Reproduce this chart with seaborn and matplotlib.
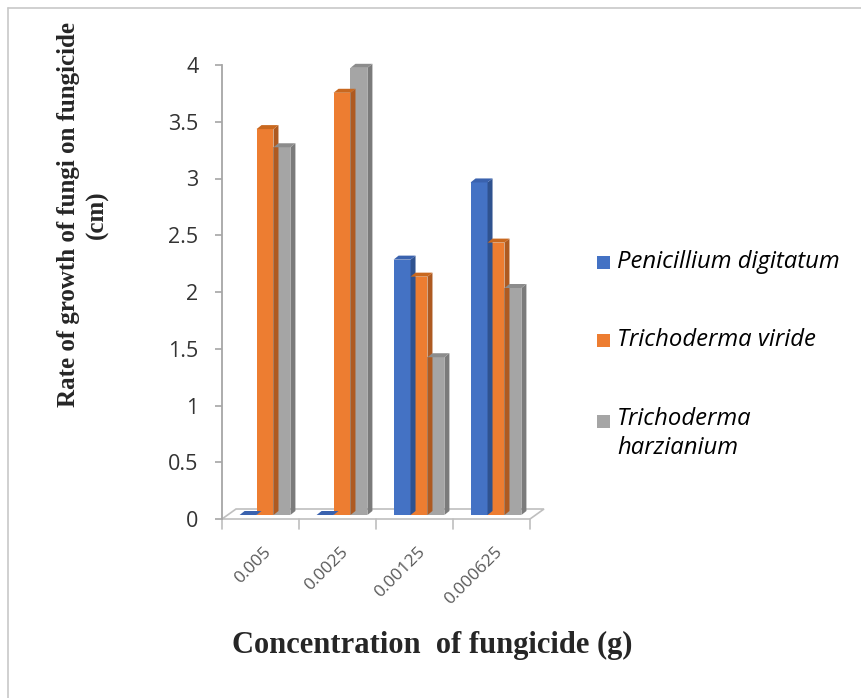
import matplotlib
matplotlib.use("Agg")
import matplotlib.pyplot as plt
from matplotlib.patches import Polygon, Rectangle
from matplotlib.lines import Line2D
import seaborn as sns
import pandas as pd
import numpy as np

categories = ["0.005", "0.0025", "0.00125", "0.000625"]
series = ["Penicillium digitatum", "Trichoderma viride", "Trichoderma\nharzianium"]
penicillium = [0.0, 0.0, 2.25, 2.93]
viride = [3.4, 3.72, 2.1, 2.4]
harzianium = [3.24, 3.94, 1.39, 2.0]

front_colors = ["#4472C4", "#ED7D31", "#A5A5A5"]
side_colors = ["#2F528F", "#AE5A21", "#7B7B7B"]
top_colors = ["#3A62AE", "#C9681F", "#8C8C8C"]

df = pd.DataFrame({
    "conc": categories * 3,
    "species": sum([[s] * 4 for s in series], []),
    "value": penicillium + viride + harzianium,
})

sns.set_theme(style="white")
plt.rcParams["font.family"] = ["Open Sans", "DejaVu Sans"]

W, H = 861, 698
fig = plt.figure(figsize=(W / 100, H / 100), dpi=100)
x0_px, x1_px = 222, 222 + 4.25 * 77
ax = fig.add_axes([x0_px / W, 1 - 519 / H, (x1_px - x0_px) / W, (519 - 65) / H])

sns.barplot(data=df, x="conc", y="value", hue="species", palette=front_colors,
            order=categories, hue_order=series, width=0.66, ax=ax,
            legend=False, saturation=1, linewidth=0, zorder=3)

ax.set_xlim(-0.5, 3.75)
ax.set_ylim(0, 4)

px_x = 1 / 77.0
px_y = 4 / (519 - 65)

# floor (3D base)
fd_x, fd_y = 14 * px_x, 10 * px_y
floor = Polygon([(-0.5, 0), (3.5, 0), (3.5 + fd_x, fd_y), (-0.5 + fd_x, fd_y)],
                closed=True, facecolor="white", edgecolor="#BFBFBF", lw=1.2,
                zorder=1, clip_on=False)
ax.add_patch(floor)

# shift bars to the middle depth of the floor and add 3D faces
bx, by = 4.5 * px_x, 4 * px_y
dx, dy = 5 * px_x, 4 * px_y
bars = [p for p in ax.patches if isinstance(p, Rectangle)]
for i, p in enumerate(bars):
    s = i // 4
    x, w, h = p.get_x(), p.get_width(), p.get_height()
    x += bx
    y = by
    p.set_x(x)
    p.set_y(y)
    p.set_clip_on(False)
    top = Polygon([(x, y + h), (x + w, y + h), (x + w + dx, y + h + dy), (x + dx, y + h + dy)],
                  closed=True, facecolor=top_colors[s], lw=0, zorder=3, clip_on=False)
    side = Polygon([(x + w, y), (x + w + dx, y + dy), (x + w + dx, y + h + dy), (x + w, y + h)],
                   closed=True, facecolor=side_colors[s], lw=0, zorder=3, clip_on=False)
    if h > 0:
        ax.add_patch(side)
    ax.add_patch(top)

for sp in ["top", "right", "bottom"]:
    ax.spines[sp].set_visible(False)
ax.spines["left"].set_color("#A6A6A6")
ax.spines["left"].set_linewidth(1.3)
ax.set_yticks([0, 0.5, 1, 1.5, 2, 2.5, 3, 3.5, 4])
ax.set_yticklabels(["0", "0.5", "1", "1.5", "2", "2.5", "3", "3.5", "4"])
ax.tick_params(axis="y", left=True, length=5, width=1.2, color="#A6A6A6",
               labelsize=15.5, labelcolor="#333333", pad=12)
ax.grid(False)

ax.set_xticks([])
for b in np.arange(-0.5, 4.0, 1.0):
    ax.plot([b, b], [0, -10 * px_y], color="#BFBFBF", lw=1.2, clip_on=False, zorder=2)
for i, c in enumerate(categories):
    ax.text(i + 0.04, -0.22, c, rotation=45, ha="right", va="top",
            fontsize=12.5, color="#595959", rotation_mode="anchor")

ax.set_xlabel("")
ax.set_ylabel("")

serif = ["Liberation Serif", "DejaVu Serif"]
fig.text(432 / W, 1 - 645 / H, "Concentration  of fungicide (g)",
         ha="center", va="center", fontsize=22, fontweight="bold", family=serif)
fig.text(83 / W, 1 - 215 / H, "Rate of growth of fungi on fungicide\n(cm)",
         ha="center", va="center", rotation=90, fontsize=18, fontweight="bold",
         family=serif, linespacing=1.35)

# legend
leg_y = [262, 340, 421]
for name, c, yy in zip(series, front_colors, leg_y):
    fig.patches.append(Rectangle((597 / W, 1 - (yy + 7) / H), 13 / W, 13 / H,
                                 transform=fig.transFigure, facecolor=c, lw=0))
    if "\n" in name:
        fig.text(617 / W, 1 - (yy - 14) / H, name, ha="left", va="top",
                 fontsize=17.2, style="italic", color="#000000", linespacing=1.3)
    else:
        fig.text(617 / W, 1 - yy / H, name, ha="left", va="center",
                 fontsize=17.2, style="italic", color="#000000")

# outer border (top and left only visible)
fig.lines.append(Line2D([8 / W, 1], [1 - 8 / H, 1 - 8 / H], transform=fig.transFigure,
                        color="#C8C8C8", lw=1.2))
fig.lines.append(Line2D([8 / W, 8 / W], [0, 1 - 8 / H], transform=fig.transFigure,
                        color="#C8C8C8", lw=1.2))

fig.savefig("out.png", dpi=100)
